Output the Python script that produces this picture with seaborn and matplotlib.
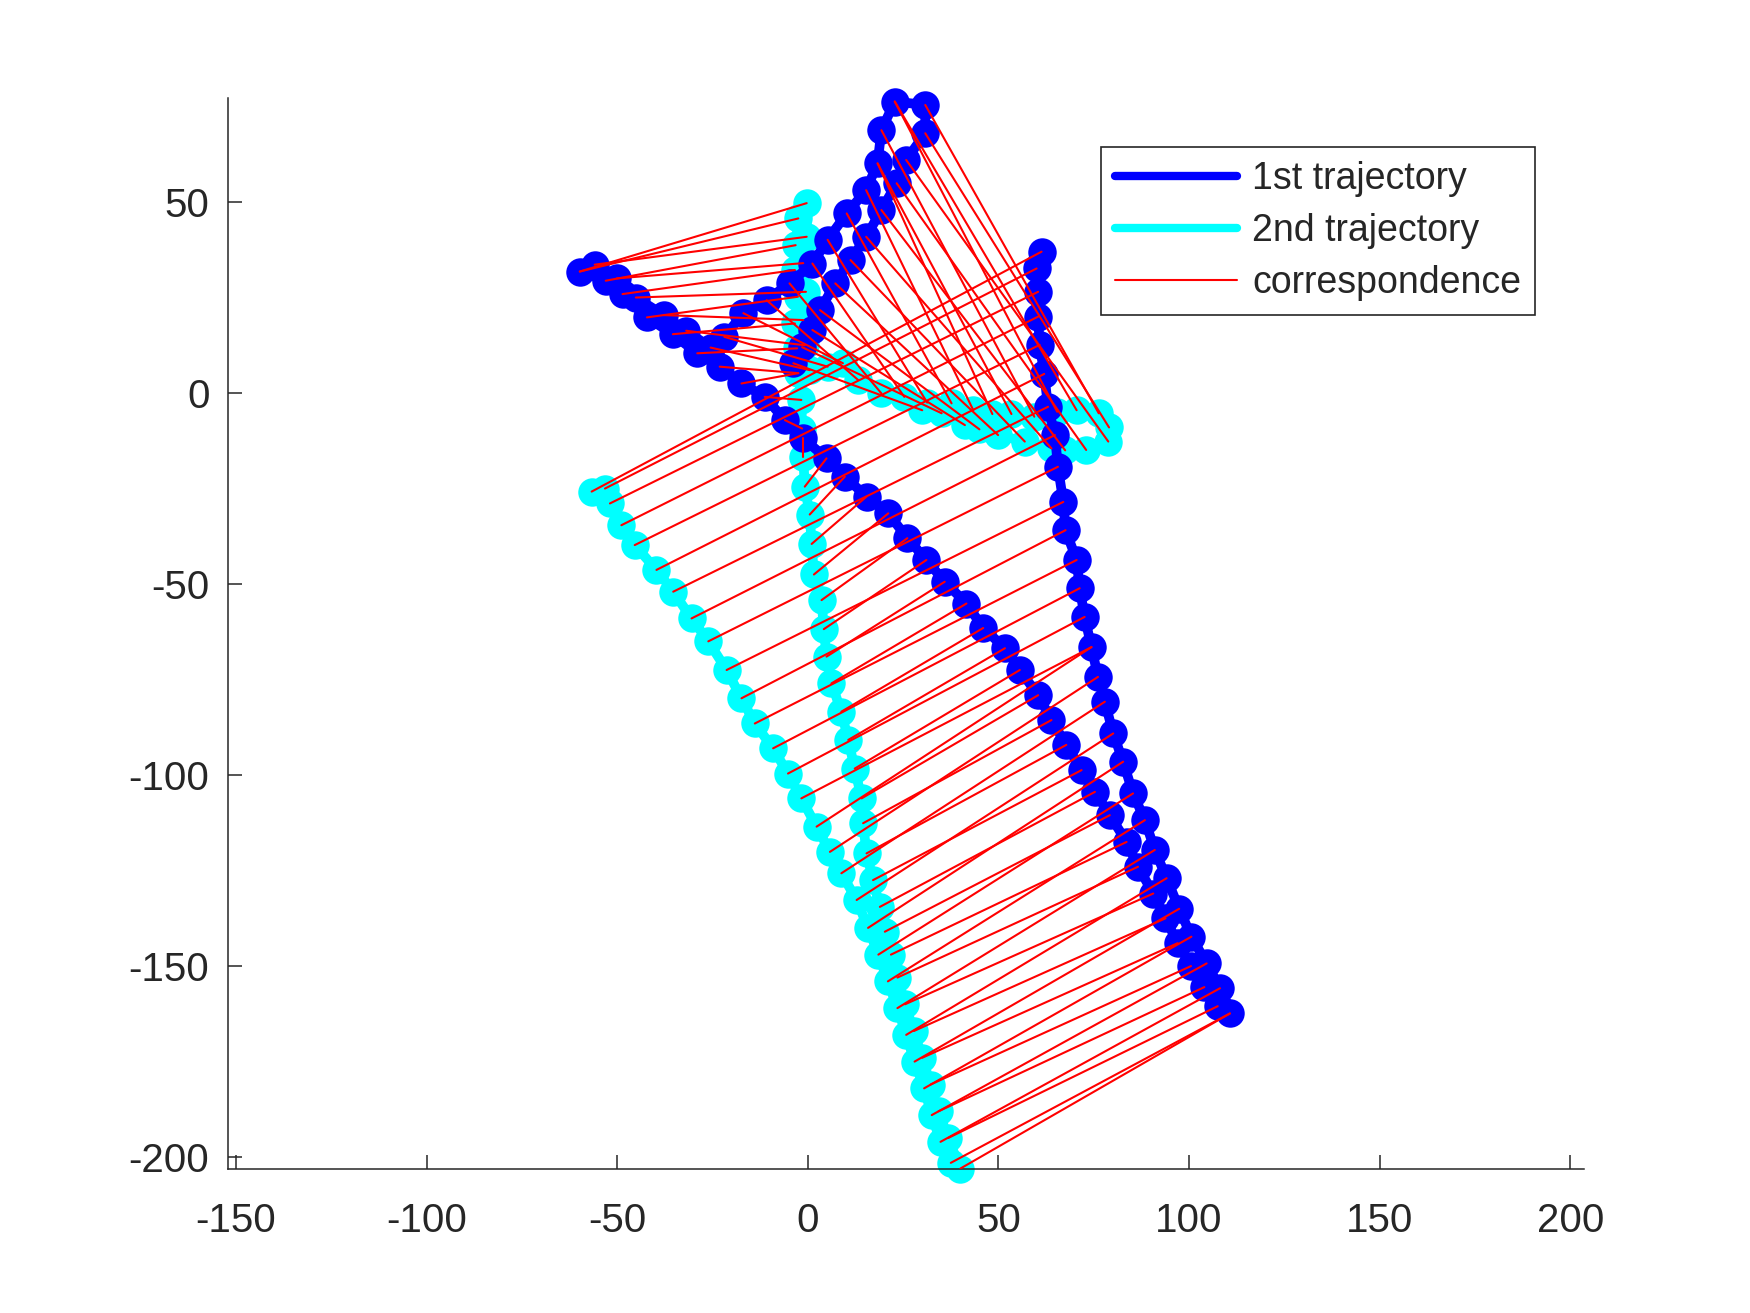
import pandas as pd
import seaborn as sns
import matplotlib.pyplot as plt
from matplotlib.lines import Line2D

# --- 1st trajectory (blue), points in drawing order ---
traj1_x = [61.3, 60.0, 60.4, 60.4, 60.8, 62.0, 63.0, 64.8, 65.6, 67.0,
           67.6, 70.5, 71.3, 72.6, 74.4, 76.1, 77.9, 80.1, 82.7, 85.3,
           88.4, 91.0, 94.1, 97.4, 100.6, 104.6, 108.1, 110.7,
           107.5, 104.0, 100.5, 97.0, 93.8, 90.6, 86.6, 83.6, 79.2, 75.3,
           71.8, 67.8, 63.9, 60.4, 55.6, 51.7, 46.0, 41.6, 35.9, 31.1,
           26.1, 21.1, 15.4, 9.7, 4.9, -1.2, -6.0, -11.3, -17.4, -23.1,
           -29.0, -35.4, -42.2, -48.6, -53.0, -59.8,
           -55.9, -50.1, -45.1, -37.8, -31.9, -25.5,
           -21.9, -16.9, -10.8, -4.8, 1.2, 5.2, 10.2, 15.3, 18.3, 19.3, 22.8,
           30.8,
           30.8, 25.8, 23.3, 19.3, 15.3, 11.2, 7.2, 3.2, 1.2, -1.5, -3.8]
traj1_y = [37.0, 32.6, 26.5, 20.0, 12.6, 5.0, -3.6, -11.0, -19.3, -28.5,
           -35.9, -43.7, -51.1, -58.6, -66.5, -74.3, -80.8, -89.1, -96.5, -104.8,
           -111.8, -119.6, -127.0, -135.0, -142.3, -149.3, -155.8, -162.4,
           -160.5, -155.5, -150.0, -144.0, -137.5, -131.0, -124.0, -117.5, -110.5, -104.4,
           -98.7, -92.1, -85.6, -79.1, -72.5, -66.8, -61.5, -55.1, -49.4, -43.7,
           -38.0, -31.5, -27.1, -21.9, -17.1, -11.9, -7.1, -1.0, 2.5, 6.9,
           10.4, 15.4, 19.8, 25.9, 29.4, 31.8,
           33.6, 30.0, 25.0, 20.4, 16.3, 11.9,
           14.7, 20.9, 24.3, 28.7, 33.9, 40.1, 47.0, 53.1, 60.1, 68.8, 76.3,
           75.4,
           68.0, 61.0, 54.9, 47.9, 40.9, 34.8, 28.7, 21.7, 16.5, 12.0, 7.8]

# --- 2nd trajectory (cyan), points in drawing order ---
traj2_x = [-56.7, -53.2, -51.9, -48.9, -45.4, -39.7, -35.3, -30.5, -26.1, -21.3,
           -17.4, -13.9, -9.1, -5.2, -1.7, 2.3, 5.8, 8.8, 12.8, 15.8,
           18.5, 21.0, 23.5, 25.8, 28.0, 30.5, 32.5, 34.8, 37.5, 40.0,
           36.8, 34.3, 32.2, 30.0, 27.8, 25.5, 23.5, 21.8, 20.2, 18.9,
           17.1, 15.4, 14.5, 14.1, 12.3, 10.6, 8.8, 6.2, 4.9, 4.2,
           3.6, 1.6, 1.0, 0.5, -0.8, -1.2, -1.5, -1.7, -2.5,
           -2.8, -3.4, -2.6, -3.4, -3.2, -2.5, -0.3,
           -0.3, -1.2, -0.5, -1.2, -0.8, 0.5,
           5.2, 9.2, 13.2, 19.3, 25.3, 31.3, 37.7, 43.4, 48.4, 53.4,
           59.4, 65.4, 70.5, 76.3, 79.0, 78.8,
           73.0, 67.5, 63.9, 56.9, 49.9, 45.0, 41.2, 35.1, 30.0]
traj2_y = [-25.8, -25.0, -28.9, -34.6, -39.8, -46.3, -52.0, -59.0, -65.0, -72.5,
           -79.9, -86.5, -93.0, -99.6, -106.1, -113.5, -120.1, -125.7, -132.7, -140.0,
           -147.0, -154.0, -161.0, -168.0, -175.0, -182.0, -189.0, -196.0, -201.5, -203.0,
           -195.0, -188.0, -181.0, -174.0, -167.0, -160.0, -153.0, -147.0, -141.0, -134.5,
           -127.5, -120.5, -112.6, -106.1, -98.3, -90.8, -83.4, -76.0, -69.0, -61.8,
           -54.2, -47.5, -39.5, -31.8, -24.5, -16.7, -9.3, -1.8, 5.2,
           11.7, 18.2, 25.2, 32.2, 38.7, 45.7, 49.7,
           40.9, 34.0, 26.5, 19.1, 12.5, 6.0,
           6.9, 7.8, 3.4, -0.1, -1.0, -2.5, -2.7, -4.5, -5.5, -5.5,
           -6.2, -4.9, -4.5, -5.3, -9.0, -12.7,
           -14.9, -15.0, -14.5, -12.7, -11.0, -9.5, -8.4, -5.3, -4.5]

# --- correspondence: index into 1st trajectory <-> index into 2nd trajectory ---
corr_1st = [0, 1, 2, 3, 4, 5, 6, 7, 8, 9, 10, 11, 12, 13, 14, 14, 15, 16, 17, 18,
            19, 20, 21, 22, 23, 24, 25, 26, 27, 27,
            28, 29, 30, 31, 32, 33, 34, 35, 36, 37, 38, 39, 40, 41, 42, 43, 44, 45,
            46, 47, 48, 49, 50, 51, 52, 53, 54, 55, 56, 57,
            58, 59, 60, 61, 62, 63, 63,
            64, 65, 66, 67, 68, 69,
            70, 71, 72, 73, 74, 75, 76, 77, 78, 78, 79, 80, 80, 81,
            82, 83, 84, 85, 86, 87, 88, 89, 90, 91, 92]
corr_2nd = [0, 1, 2, 3, 4, 5, 6, 7, 8, 9, 10, 11, 12, 13, 14, 15, 16, 17, 18, 19,
            20, 21, 22, 23, 24, 25, 26, 27, 28, 29,
            30, 31, 32, 33, 34, 35, 36, 37, 38, 39, 40, 41, 42, 43, 44, 45, 46, 47,
            48, 49, 50, 51, 52, 53, 54, 55, 56, 57, 58, 58,
            59, 60, 61, 62, 63, 64, 65,
            66, 67, 68, 69, 70, 71,
            72, 73, 74, 75, 76, 77, 78, 79, 80, 81, 82, 83, 84, 85,
            86, 87, 88, 89, 90, 91, 92, 93, 94, 95, 96]

LEGEND_LABELS = ["1st trajectory", "2nd trajectory", "correspondence"]
OUTPUT_IMAGE_FILE = "out.png"

sns.set_style("ticks")
plt.rcParams["font.family"] = ["Liberation Sans", "DejaVu Sans"]
plt.rcParams["axes.unicode_minus"] = False

AX_COLOR = "#262626"

fig = plt.figure(figsize=(17.5, 13.13), dpi=100)
ax = fig.add_axes([0.13, 0.11, 0.775, 0.815])

# correspondence segments, one unit per pair
rows = []
for k, (i, j) in enumerate(zip(corr_1st, corr_2nd)):
    rows.append({"pair": k, "end": 0, "x": traj1_x[i], "y": traj1_y[i]})
    rows.append({"pair": k, "end": 1, "x": traj2_x[j], "y": traj2_y[j]})
corr_df = pd.DataFrame(rows)

# 2nd trajectory
sns.lineplot(x=traj2_x, y=traj2_y, sort=False, estimator=None, color="cyan",
             lw=7, ax=ax, zorder=2)
sns.scatterplot(x=traj2_x, y=traj2_y, s=420, color="cyan", edgecolor="cyan",
                linewidth=0, ax=ax, zorder=2.1, clip_on=False)

# 1st trajectory
sns.lineplot(x=traj1_x, y=traj1_y, sort=False, estimator=None, color="blue",
             lw=7, ax=ax, zorder=3)
sns.scatterplot(x=traj1_x, y=traj1_y, s=420, color="blue", edgecolor="blue",
                linewidth=0, ax=ax, zorder=3.1, clip_on=False)

# correspondence lines on top
sns.lineplot(data=corr_df, x="x", y="y", units="pair", estimator=None, sort=False,
             color="red", lw=1.5, ax=ax, zorder=4)

ax.set_xlim(-152.2, 203.5)
ax.set_ylim(-203.0, 77.1)
ax.set_xticks([-150, -100, -50, 0, 50, 100, 150, 200])
ax.set_yticks([-200, -150, -100, -50, 0, 50])
ax.set_xlabel("")
ax.set_ylabel("")

for side in ["top", "right"]:
    ax.spines[side].set_visible(False)
for side in ["left", "bottom"]:
    ax.spines[side].set_color(AX_COLOR)
    ax.spines[side].set_linewidth(1.1)

ax.tick_params(direction="in", length=10, width=1.1, colors=AX_COLOR, labelsize=29)
ax.tick_params(axis="x", pad=24)
ax.tick_params(axis="y", pad=13)

handles = [
    Line2D([0], [0], color="blue", lw=6),
    Line2D([0], [0], color="cyan", lw=6),
    Line2D([0], [0], color="red", lw=1.5),
]
leg = ax.legend(handles, LEGEND_LABELS, loc="upper left",
                bbox_to_anchor=(1101 / 1750, 1 - 147 / 1313),
                bbox_transform=fig.transFigure, borderaxespad=0,
                fontsize=27, handlelength=3.25, handletextpad=0.4,
                labelspacing=0.42, borderpad=0.38, fancybox=False,
                framealpha=1, edgecolor=AX_COLOR)
leg.get_frame().set_linewidth(1.2)

fig.savefig(OUTPUT_IMAGE_FILE, dpi=100)
